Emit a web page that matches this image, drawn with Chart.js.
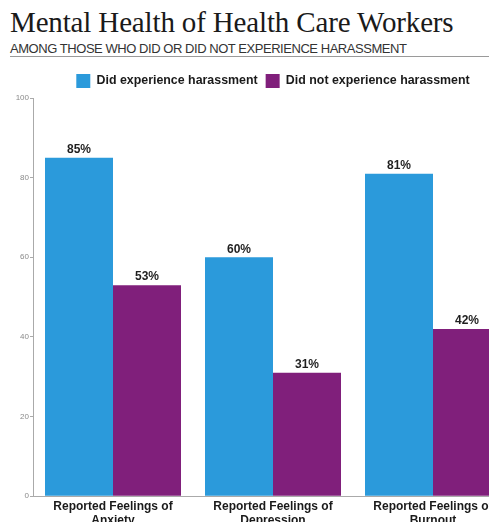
<!DOCTYPE html>
<html>
<head>
<meta charset="utf-8">
<script src="https://cdn.jsdelivr.net/npm/chart.js@4/dist/chart.umd.min.js"></script>
<style>
  html, body { margin: 0; padding: 0; background: #fff; overflow: hidden; width: 489px; height: 522px; }
  #title { position: absolute; left: 10px; top: 6px; font-family: "Liberation Serif", "DejaVu Serif", serif; font-size: 29px; color: #1a1a1a; white-space: nowrap; letter-spacing: -0.15px; }
  #subtitle { position: absolute; left: 10px; top: 41px; font-family: "Liberation Sans", Arial, sans-serif; font-size: 13px; color: #333; white-space: nowrap; letter-spacing: -0.45px; }
  #rule { position: absolute; left: 10px; top: 56px; width: 479px; height: 0; border-top: 1px solid #9a9a9a; }
  #wrap { position: absolute; left: 0; top: 66px; width: 520px; height: 457px; }
</style>
</head>
<body>
<div id="title">Mental Health of Health Care Workers</div>
<div id="subtitle">AMONG THOSE WHO DID OR DID NOT EXPERIENCE HARASSMENT</div>
<div id="rule"></div>
<div id="wrap"><canvas id="c"></canvas></div>
<script>
const categories = [
  ['Reported Feelings of', 'Anxiety'],
  ['Reported Feelings of', 'Depression'],
  ['Reported Feelings of', 'Burnout']
];
const seriesNames = ['Did experience harassment', 'Did not experience harassment'];
const didExperience = [85, 60, 81];
const didNotExperience = [53, 31, 42];
const yTicks = [0, 20, 40, 60, 80, 100];

const valueLabels = {
  id: 'valueLabels',
  afterDatasetsDraw(chart) {
    const ctx = chart.ctx;
    ctx.save();
    ctx.font = 'bold 12px "Liberation Sans", Arial, sans-serif';
    ctx.fillStyle = '#1f1f1f';
    ctx.textAlign = 'center';
    ctx.textBaseline = 'bottom';
    chart.data.datasets.forEach((ds, i) => {
      chart.getDatasetMeta(i).data.forEach((bar, j) => {
        ctx.fillText(ds.data[j] + '%', bar.x, bar.y - 2);
      });
    });
    ctx.restore();
  }
};

new Chart(document.getElementById('c'), {
  type: 'bar',
  data: {
    labels: categories,
    datasets: [
      { label: seriesNames[0], data: didExperience, backgroundColor: '#2B9ADB' },
      { label: seriesNames[1], data: didNotExperience, backgroundColor: '#801F7B' }
    ]
  },
  options: {
    responsive: true,
    maintainAspectRatio: false,
    animation: false,
    layout: { padding: { left: 0, right: 7, top: 0, bottom: 0 } },
    datasets: { bar: { categoryPercentage: 0.85, barPercentage: 1.0 } },
    plugins: {
      legend: {
        position: 'top',
        fullSize: false,
        labels: {
          boxWidth: 14, boxHeight: 14, padding: 8,
          color: '#1a1a1a',
          font: { family: '"Liberation Sans", Arial, sans-serif', size: 12.4, weight: 'bold' }
        }
      },
      tooltip: { enabled: false }
    },
    scales: {
      x: {
        grid: { display: false },
        border: { display: true, color: '#aaaaaa' },
        ticks: {
          color: '#1a1a1a', padding: -5, maxRotation: 0, autoSkip: false,
          font: { family: '"Liberation Sans", Arial, sans-serif', size: 12, weight: 'bold', lineHeight: 1.2 }
        }
      },
      y: {
        min: 0, max: 100,
        afterBuildTicks(scale) { scale.ticks = yTicks.map(v => ({ value: v })); },
        afterFit(scale) { scale.width = 33; },
        grid: { display: true, drawOnChartArea: false, drawTicks: true, tickLength: 3, color: '#aaaaaa' },
        border: { display: true, color: '#aaaaaa' },
        ticks: {
          color: '#8a8a8a', padding: 1,
          font: { family: '"Liberation Sans", Arial, sans-serif', size: 8 }
        }
      }
    }
  },
  plugins: [valueLabels]
});
</script>
</body>
</html>
